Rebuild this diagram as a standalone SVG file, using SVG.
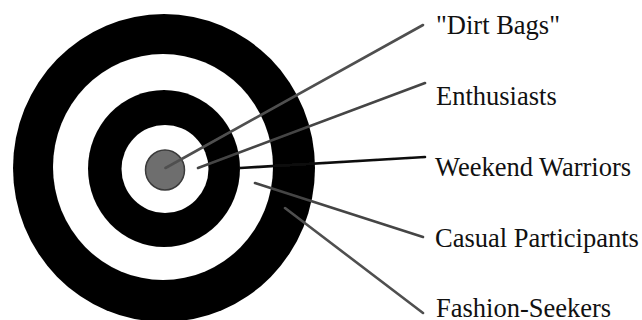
<svg xmlns="http://www.w3.org/2000/svg" width="642" height="320" viewBox="0 0 642 320">
  <defs>
    <filter id="soft" x="-5%" y="-5%" width="110%" height="110%">
      <feGaussianBlur stdDeviation="0.7"/>
    </filter>
    <style>
      .ring-dark { fill: #050505; }
      .ring-light { fill: #ffffff; }
      .conn { stroke-width: 2.6; stroke-linecap: round; fill: none; }
    </style>
  </defs>
  <rect width="642" height="320" fill="#ffffff"/>

  <g id="target" filter="url(#soft)">
    <ellipse class="ring-dark" cx="164" cy="168" rx="151" ry="154"/>
    <ellipse class="ring-light" cx="163" cy="167" rx="110" ry="113"/>
    <ellipse class="ring-dark" cx="164" cy="168.5" rx="76" ry="78.5"/>
    <ellipse class="ring-light" cx="165" cy="169" rx="43.5" ry="44"/>
    <ellipse cx="165" cy="170" rx="19.5" ry="20" fill="#6e6e6e" stroke="#3a3a3a" stroke-width="1.5"/>
  </g>

  <g id="connectors" filter="url(#soft)">
    <line class="conn" x1="165.5" y1="168" x2="423" y2="25" stroke="#505050"/>
    <line class="conn" x1="198" y1="168" x2="425" y2="83" stroke="#454545"/>
    <line class="conn" x1="240" y1="168" x2="425" y2="157" stroke="#111111"/>
    <line class="conn" x1="255" y1="183" x2="423" y2="237" stroke="#454545"/>
    <line class="conn" x1="285" y1="208" x2="423" y2="313" stroke="#505050"/>
  </g>

  <g font-family="'Liberation Serif', serif" font-size="26.5" fill="#111111">
    <g id="dirt-bags"><text x="436" y="34">"Dirt Bags"</text></g>
    <g id="enthusiasts"><text x="436" y="105">Enthusiasts</text></g>
    <g id="weekend-warriors"><text x="435" y="176">Weekend Warriors</text></g>
    <g id="casual-participants"><text x="435" y="247">Casual Participants</text></g>
    <g id="fashion-seekers"><text x="436" y="317">Fashion-Seekers</text></g>
  </g>
</svg>
